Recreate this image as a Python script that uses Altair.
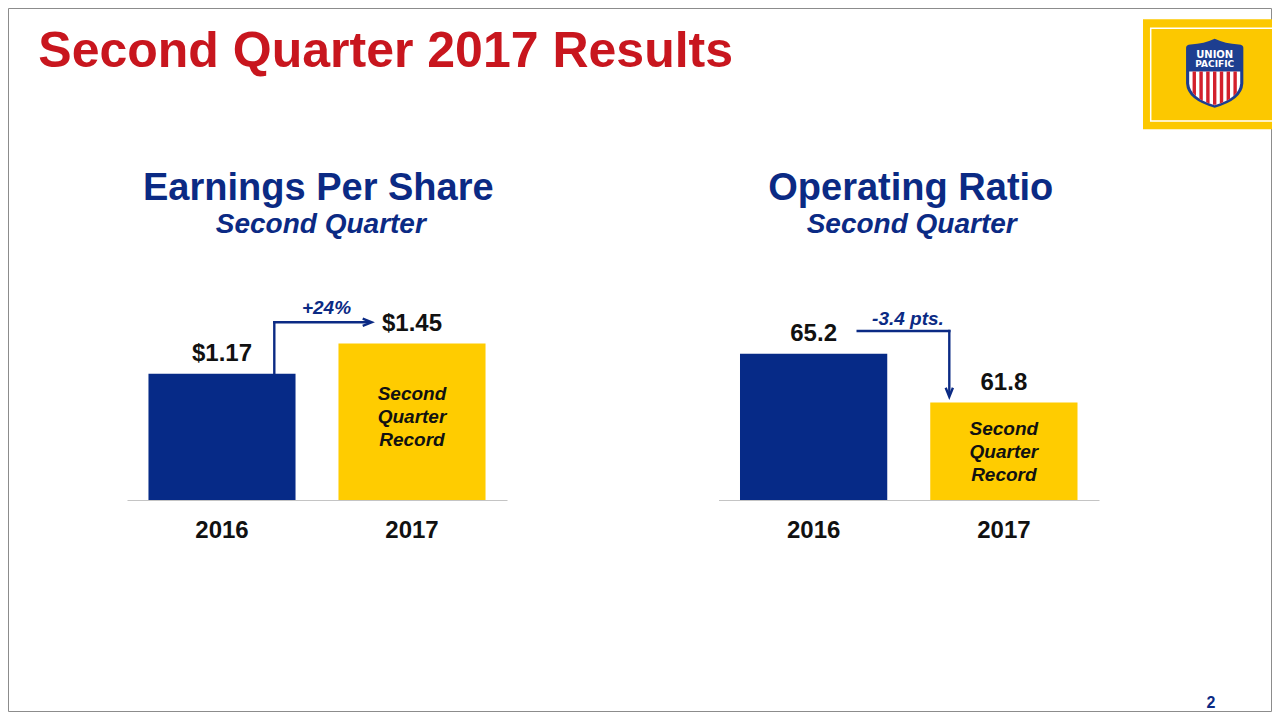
import altair as alt
import numpy as np
import pandas as pd

# ---------------- data ----------------
YEARS = ["2016", "2017"]
EPS_VALUES = [1.17, 1.45]
OR_VALUES = [65.2, 61.8]
RECORD_LABEL = ["Second", "Quarter", "Record"]
EPS_CHANGE = "+24%"
OR_CHANGE = "-3.4 pts."
TITLE = "Second Quarter 2017 Results"
EPS_TITLE = "Earnings Per Share"
OR_TITLE = "Operating Ratio"
SUBTITLE = "Second Quarter"
PAGE_NUMBER = "2"
LOGO_LINES = ["UNION", "PACIFIC"]

# ---------------- styles ----------------
FONT = "Liberation Sans"
NAVY = "#0b2a84"
BAR_NAVY = "#062a87"
YELLOW = "#ffcc00"
RED = "#c8161e"
BLACK = "#111111"
AXIS_GRAY = "#c4c4c4"
LOGO_YELLOW = "#fcc800"
LOGO_BLUE = "#1d3e90"
LOGO_RED = "#d3202c"

eps_df = pd.DataFrame({"year": YEARS, "value": EPS_VALUES})
or_df = pd.DataFrame({"year": YEARS, "value": OR_VALUES})
one = pd.DataFrame({"k": [0]})

color_enc = alt.Color("year:N", scale=alt.Scale(domain=YEARS, range=[BAR_NAVY, YELLOW]), legend=None)


def x_enc(rng):
    return alt.X(
        "year:N",
        scale=alt.Scale(domain=YEARS, range=rng, paddingInner=0.226, paddingOuter=0.113),
        axis=alt.Axis(
            orient="bottom", title=None, ticks=False, tickSize=0, grid=False,
            domainColor=AXIS_GRAY, domainWidth=1.2,
            labelFont=FONT, labelFontSize=24, labelFontWeight="bold", labelColor=BLACK,
            labelPadding=37, labelBaseline="alphabetic", labelAngle=0,
        ),
    )


def y_enc(domain, rng):
    return alt.Y("value:Q", scale=alt.Scale(domain=domain, range=rng, nice=False, zero=False), axis=None)


def txt(text, x, y, size, color, weight="bold", style="normal", align="center", font=FONT):
    return alt.Chart(one).mark_text(
        text=text, font=font, fontSize=size, fontWeight=weight, fontStyle=style,
        color=color, align=align, baseline="alphabetic",
    ).encode(x=alt.value(x), y=alt.value(y))


def hrule(x1, x2, y):
    return alt.Chart(one).mark_rule(color=NAVY, strokeWidth=2.4, strokeCap="square").encode(
        x=alt.value(x1), x2=alt.value(x2), y=alt.value(y))


# ---------------- EPS panel ----------------
ex = x_enc([119, 499])
ey = y_enc([0, 2], [492, 276])

eps_bars = alt.Chart(eps_df).mark_bar().encode(x=ex, y=ey, y2=alt.datum(0), color=color_enc)
eps_labels = alt.Chart(eps_df).mark_text(
    dy=-12.5, baseline="alphabetic", font=FONT, fontSize=24, fontWeight="bold", color=BLACK
).encode(x=ex, y=ey, text=alt.Text("value:Q", format="$.2f"))
eps_record = alt.Chart(eps_df.iloc[[1]]).mark_text(
    dy=56.6, baseline="alphabetic", font=FONT, fontSize=19, fontWeight="bold", fontStyle="italic",
    color=BLACK, lineHeight=23,
).encode(x=ex, y=ey, text=alt.value(RECORD_LABEL))
eps_arrow_v = alt.Chart(eps_df.iloc[[0]]).mark_rule(color=NAVY, strokeWidth=2.4, strokeCap="square").encode(
    x=alt.value(266.3), y=ey, y2=alt.value(314.3))
eps_arrow_h = hrule(266.3, 361, 314.3)
eps_head = alt.Chart(one).mark_point(
    shape="M -1 -0.8 L 1 0 L -1 0.8", filled=False, strokeWidth=2.4, size=81, color=NAVY, opacity=1
).encode(x=alt.value(359.2), y=alt.value(314.3))

eps_layer = alt.layer(
    eps_bars, eps_labels, eps_record, eps_arrow_v, eps_arrow_h, eps_head,
    txt(EPS_CHANGE, 318.5, 306, 19, NAVY, style="italic"),
    txt(EPS_TITLE, 310.3, 192, 38, NAVY),
    txt(SUBTITLE, 312.8, 224.7, 28, NAVY, style="italic"),
)

# ---------------- Operating ratio panel ----------------
ox = x_enc([710.5, 1091])
OR_BASE = 55
oy = y_enc([OR_BASE, 70], [492, 277])

or_bars = alt.Chart(or_df).mark_bar().encode(x=ox, y=oy, y2=alt.datum(OR_BASE), color=color_enc)
or_labels = alt.Chart(or_df).mark_text(
    dy=-13, baseline="alphabetic", font=FONT, fontSize=24, fontWeight="bold", color=BLACK
).encode(x=ox, y=oy, text=alt.Text("value:Q", format=".1f"))
or_record = alt.Chart(or_df.iloc[[1]]).mark_text(
    dy=32.5, baseline="alphabetic", font=FONT, fontSize=19, fontWeight="bold", fontStyle="italic",
    color=BLACK, lineHeight=23,
).encode(x=ox, y=oy, text=alt.value(RECORD_LABEL))
or_arrow_h = hrule(849.7, 941.3, 323)
or_arrow_v = alt.Chart(one).mark_rule(color=NAVY, strokeWidth=2.4, strokeCap="square").encode(
    x=alt.value(941.3), y=alt.value(323), y2=alt.value(386))
or_head = alt.Chart(one).mark_point(
    shape="M -0.8 -1 L 0 1 L 0.8 -1", filled=False, strokeWidth=2.4, size=81, color=NAVY, opacity=1
).encode(x=alt.value(941.3), y=alt.value(384.2))

or_layer = alt.layer(
    or_bars, or_labels, or_record, or_arrow_h, or_arrow_v, or_head,
    txt(OR_CHANGE, 900, 317, 19, NAVY, style="italic"),
    txt(OR_TITLE, 902.8, 192, 38, NAVY),
    txt(SUBTITLE, 903.7, 224.7, 28, NAVY, style="italic"),
)

# ---------------- logo ----------------
SHIELD = ("M -0.83 -0.74 Q -0.83 -0.82 -0.7 -0.83 Q -0.3 -0.86 0 -1 Q 0.3 -0.86 0.7 -0.83 "
          "Q 0.83 -0.82 0.83 -0.74 L 0.83 0.3 Q 0.8 0.78 0 1 Q -0.8 0.78 -0.83 0.3 Z")
INNER = "M -0.74 -0.05 L 0.74 -0.05 L 0.74 0.3 Q 0.71 0.72 0 0.93 Q -0.71 0.72 -0.74 0.3 Z"

_t = np.linspace(0, 1, 101)
_bx = (1 - _t) ** 2 * 0.74 + 2 * (1 - _t) * _t * 0.71
_by = (1 - _t) ** 2 * 0.3 + 2 * (1 - _t) * _t * 0.72 + _t ** 2 * 0.93


def _yb(x):
    return float(np.interp(abs(x), _bx[::-1], _by[::-1]))


_edges = np.linspace(-0.74, 0.74, 16)
_parts = []
for i in range(1, 15, 2):
    x0, x1 = _edges[i], _edges[i + 1]
    _parts.append(
        f"M {x0:.3f} -0.05 L {x1:.3f} -0.05 L {x1:.3f} {_yb(x1):.3f} L {x0:.3f} {_yb(x0):.3f} Z")
STRIPES = " ".join(_parts)

SX, SY, SSIZE = 1206.7, 65.2, 4761

logo_bg = alt.Chart(one).mark_rect(color=LOGO_YELLOW).encode(
    x=alt.value(1135), x2=alt.value(1264), y=alt.value(11.3), y2=alt.value(121.3))
logo_frame = alt.Chart(one).mark_rect(fill="transparent", stroke="white", strokeWidth=1.5).encode(
    x=alt.value(1142.7), x2=alt.value(1280), y=alt.value(20.3), y2=alt.value(113))
shield = alt.Chart(one).mark_point(shape=SHIELD, filled=True, color=LOGO_BLUE, size=SSIZE, opacity=1).encode(
    x=alt.value(SX), y=alt.value(SY))
shield_white = alt.Chart(one).mark_point(shape=INNER, filled=True, color="white", size=SSIZE, opacity=1).encode(
    x=alt.value(SX), y=alt.value(SY))
shield_red = alt.Chart(one).mark_point(shape=STRIPES, filled=True, color=LOGO_RED, size=SSIZE, opacity=1).encode(
    x=alt.value(SX), y=alt.value(SY))
logo_t1 = txt(LOGO_LINES[0], SX, 50, 10, "white", font="DejaVu Sans")
logo_t2 = txt(LOGO_LINES[1], SX, 58.7, 9, "white", font="DejaVu Sans")

border = alt.Chart(one).mark_rect(fill="transparent", stroke="#8c8c8c", strokeWidth=1).encode(
    x=alt.value(0.5), x2=alt.value(1263.5), y=alt.value(0.5), y2=alt.value(703.5))

title = txt(TITLE, 30.3, 58.7, 50, RED, align="left")
page_no = txt(PAGE_NUMBER, 1203, 699.7, 16, NAVY)

chart = alt.layer(
    border, title, logo_bg, logo_frame, shield, shield_white, shield_red, logo_t1, logo_t2, page_no,
    eps_layer, or_layer,
).resolve_scale(x="independent", y="independent").properties(
    width=1264, height=492,
    padding={"left": 0, "top": 0, "right": 0, "bottom": 212},
    autosize=alt.AutoSizeParams(type="none"),
    background="white",
).configure_view(strokeWidth=0)

chart.save("out.html", embed_options={"renderer": "svg", "actions": False})
